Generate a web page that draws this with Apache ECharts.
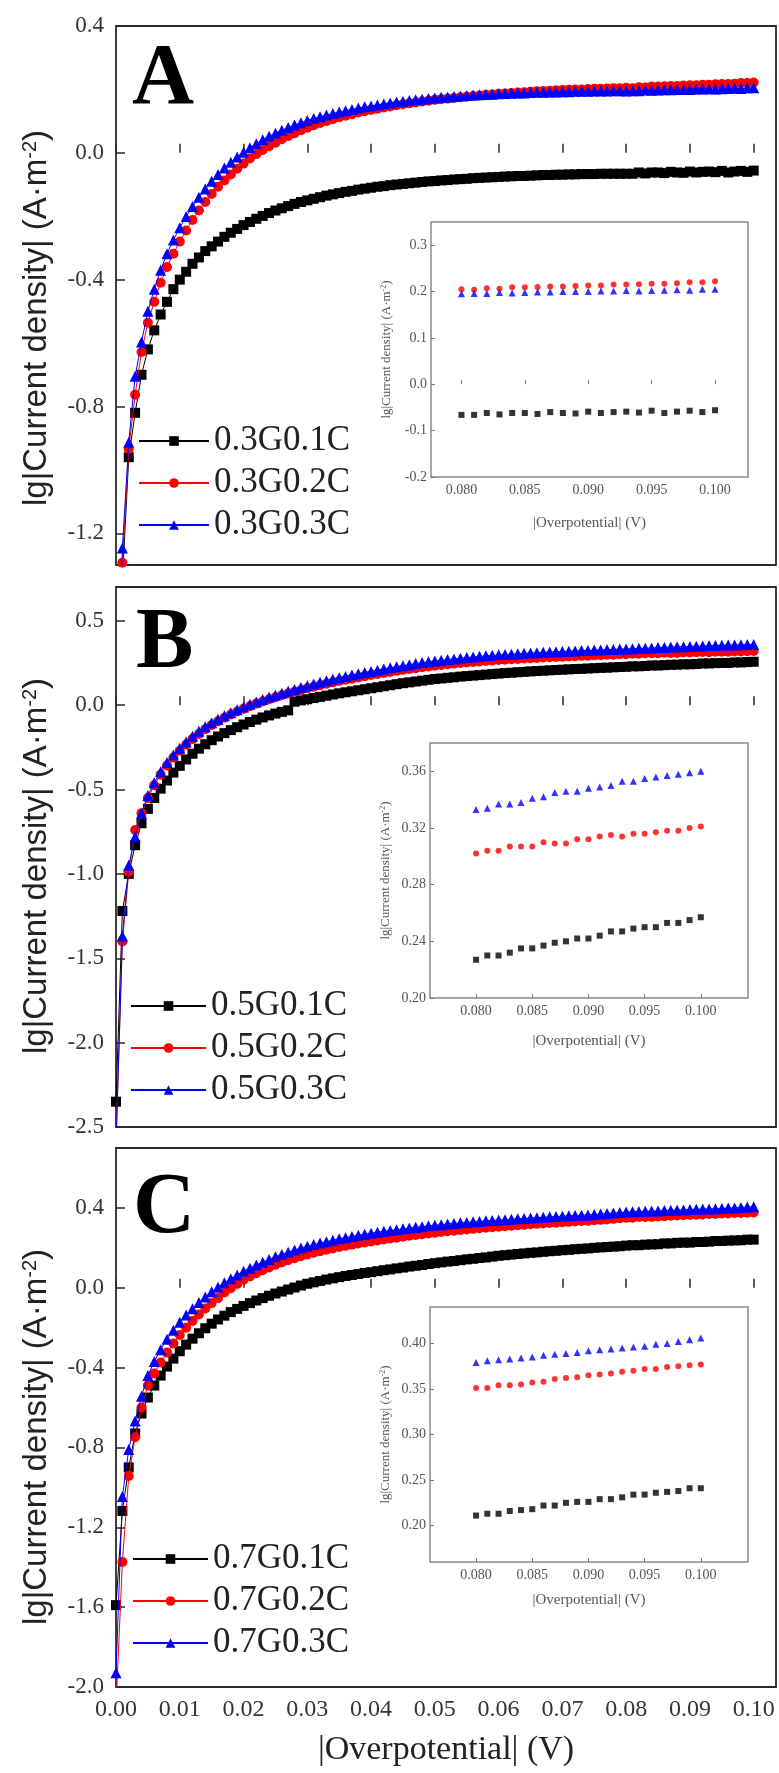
<!DOCTYPE html>
<html><head><meta charset="utf-8">
<script src="https://cdn.jsdelivr.net/npm/echarts@6/dist/echarts.min.js"></script>
<style>html,body{margin:0;padding:0;background:#fff}#chart{width:779px;height:1773px}</style>
</head><body><div id="chart"></div>
<script>
// ---------------- DATA ----------------
const overpotential = [0.000,0.001,0.002,0.003,0.004,0.005,0.006,0.007,0.008,0.009,
0.010,0.011,0.012,0.013,0.014,0.015,0.016,0.017,0.018,0.019,
0.020,0.021,0.022,0.023,0.024,0.025,0.026,0.027,0.028,0.029,
0.030,0.031,0.032,0.033,0.034,0.035,0.036,0.037,0.038,0.039,
0.040,0.041,0.042,0.043,0.044,0.045,0.046,0.047,0.048,0.049,
0.050,0.051,0.052,0.053,0.054,0.055,0.056,0.057,0.058,0.059,
0.060,0.061,0.062,0.063,0.064,0.065,0.066,0.067,0.068,0.069,
0.070,0.071,0.072,0.073,0.074,0.075,0.076,0.077,0.078,0.079,
0.080,0.081,0.082,0.083,0.084,0.085,0.086,0.087,0.088,0.089,
0.090,0.091,0.092,0.093,0.094,0.095,0.096,0.097,0.098,0.099,
0.100];

const aBlack = [-2.0,-1.35,-0.96,-0.82,-0.70,-0.62,-0.56,-0.51,-0.47,-0.43,
-0.40,-0.375,-0.35,-0.33,-0.31,-0.295,-0.28,-0.265,-0.252,-0.24,
-0.228,-0.218,-0.208,-0.199,-0.19,-0.182,-0.175,-0.168,-0.161,-0.155,
-0.150,-0.145,-0.14,-0.135,-0.131,-0.127,-0.123,-0.12,-0.116,-0.113,
-0.110,-0.107,-0.105,-0.102,-0.100,-0.098,-0.096,-0.094,-0.092,-0.090,
-0.089,-0.087,-0.086,-0.084,-0.083,-0.082,-0.080,-0.079,-0.078,-0.077,
-0.076,-0.075,-0.074,-0.073,-0.073,-0.072,-0.071,-0.070,-0.070,-0.069,
-0.069,-0.068,-0.068,-0.067,-0.067,-0.067,-0.066,-0.066,-0.066,-0.066,
-0.066,-0.066,-0.062,-0.065,-0.062,-0.062,-0.064,-0.060,-0.062,-0.063,
-0.059,-0.062,-0.060,-0.059,-0.061,-0.057,-0.062,-0.059,-0.057,-0.060,
-0.056];
const aRed = [-2.2,-1.293,-0.934,-0.763,-0.628,-0.536,-0.47,-0.41,-0.36,-0.318,
-0.28,-0.245,-0.212,-0.182,-0.155,-0.13,-0.107,-0.087,-0.068,-0.05,
-0.034,-0.018,-0.004,0.009,0.021,0.032,0.043,0.053,0.062,0.071,
0.079,0.087,0.094,0.100,0.106,0.112,0.117,0.122,0.127,0.131,
0.135,0.139,0.143,0.146,0.150,0.153,0.156,0.159,0.162,0.164,
0.167,0.169,0.171,0.173,0.175,0.177,0.179,0.181,0.183,0.184,
0.186,0.187,0.189,0.190,0.191,0.193,0.194,0.195,0.196,0.197,
0.198,0.199,0.200,0.200,0.201,0.202,0.202,0.203,0.204,0.204,
0.205,0.204,0.207,0.206,0.209,0.209,0.210,0.211,0.211,0.212,
0.213,0.213,0.215,0.215,0.216,0.217,0.217,0.218,0.220,0.220,
0.222];
const aBlue = [-2.1,-1.246,-0.913,-0.705,-0.597,-0.50,-0.43,-0.37,-0.318,-0.275,
-0.236,-0.201,-0.169,-0.14,-0.114,-0.09,-0.068,-0.048,-0.03,-0.013,
0.002,0.016,0.029,0.041,0.052,0.062,0.071,0.080,0.088,0.095,
0.102,0.108,0.114,0.119,0.124,0.129,0.133,0.137,0.141,0.145,
0.148,0.151,0.154,0.157,0.160,0.162,0.165,0.167,0.169,0.171,
0.173,0.175,0.176,0.178,0.179,0.181,0.182,0.183,0.184,0.185,
0.186,0.187,0.188,0.189,0.189,0.190,0.191,0.191,0.192,0.192,
0.193,0.193,0.194,0.194,0.194,0.195,0.195,0.195,0.196,0.196,
0.195,0.196,0.196,0.198,0.197,0.198,0.199,0.199,0.200,0.200,
0.200,0.201,0.201,0.202,0.201,0.202,0.203,0.204,0.203,0.205,
0.205];

const bBlack = [-2.35,-1.22,-1.00,-0.83,-0.70,-0.615,-0.55,-0.495,-0.447,-0.40,
-0.36,-0.322,-0.288,-0.258,-0.232,-0.208,-0.186,-0.166,-0.148,-0.131,
-0.115,-0.100,-0.086,-0.073,-0.061,-0.050,-0.040,-0.031,0.020,0.028,
0.035,0.042,0.049,0.056,0.063,0.070,0.076,0.082,0.088,0.094,
0.100,0.106,0.112,0.118,0.124,0.130,0.135,0.140,0.145,0.150,
0.155,0.158,0.162,0.165,0.169,0.172,0.175,0.178,0.181,0.184,
0.187,0.190,0.192,0.195,0.197,0.200,0.202,0.204,0.206,0.208,
0.210,0.212,0.214,0.215,0.217,0.219,0.221,0.222,0.224,0.226,
0.227,0.230,0.230,0.232,0.235,0.235,0.237,0.239,0.240,0.242,
0.242,0.244,0.247,0.247,0.249,0.250,0.250,0.253,0.253,0.255,
0.257];
const bRed = [-2.6,-1.40,-0.988,-0.74,-0.64,-0.55,-0.475,-0.412,-0.358,-0.311,
-0.27,-0.234,-0.201,-0.171,-0.143,-0.118,-0.096,-0.075,-0.056,-0.038,
-0.021,-0.006,0.009,0.022,0.035,0.047,0.058,0.069,0.080,0.090,
0.100,0.109,0.118,0.127,0.135,0.143,0.150,0.157,0.164,0.171,
0.178,0.184,0.191,0.197,0.203,0.209,0.214,0.219,0.224,0.229,
0.234,0.238,0.242,0.246,0.250,0.253,0.256,0.259,0.262,0.265,
0.267,0.269,0.272,0.274,0.276,0.278,0.280,0.282,0.284,0.285,
0.287,0.289,0.290,0.292,0.293,0.295,0.296,0.298,0.299,0.301,
0.302,0.304,0.304,0.307,0.307,0.307,0.310,0.309,0.309,0.312,
0.312,0.314,0.315,0.314,0.316,0.316,0.317,0.318,0.318,0.320,
0.321];
const bBlue = [-2.6,-1.368,-0.949,-0.78,-0.64,-0.535,-0.46,-0.395,-0.34,-0.295,
-0.255,-0.218,-0.185,-0.155,-0.128,-0.104,-0.083,-0.063,-0.045,-0.028,
-0.011,0.005,0.019,0.033,0.046,0.058,0.070,0.082,0.093,0.104,
0.115,0.125,0.135,0.144,0.153,0.162,0.170,0.178,0.186,0.193,
0.200,0.207,0.214,0.221,0.228,0.234,0.240,0.246,0.252,0.257,
0.262,0.266,0.270,0.274,0.278,0.282,0.285,0.289,0.292,0.295,
0.298,0.300,0.302,0.305,0.307,0.309,0.311,0.313,0.315,0.316,
0.318,0.320,0.321,0.323,0.324,0.326,0.327,0.329,0.330,0.332,
0.333,0.334,0.337,0.337,0.338,0.341,0.342,0.345,0.346,0.346,
0.348,0.349,0.350,0.353,0.353,0.355,0.356,0.357,0.358,0.359,
0.360];

const cBlack = [-1.59,-1.118,-0.90,-0.73,-0.63,-0.55,-0.49,-0.44,-0.395,-0.355,
-0.318,-0.285,-0.255,-0.228,-0.203,-0.18,-0.159,-0.140,-0.122,-0.106,
-0.091,-0.077,-0.064,-0.052,-0.040,-0.029,-0.019,-0.009,0.001,0.011,
0.020,0.027,0.034,0.041,0.047,0.053,0.059,0.064,0.069,0.074,
0.078,0.083,0.088,0.092,0.097,0.101,0.106,0.110,0.114,0.119,
0.123,0.127,0.131,0.134,0.138,0.142,0.145,0.149,0.152,0.156,
0.160,0.163,0.166,0.169,0.172,0.175,0.177,0.180,0.183,0.185,
0.188,0.190,0.193,0.195,0.197,0.200,0.202,0.204,0.206,0.208,
0.211,0.213,0.213,0.216,0.217,0.218,0.222,0.222,0.225,0.226,
0.226,0.229,0.229,0.231,0.234,0.234,0.236,0.237,0.238,0.241,
0.241];
const cRed = [-2.1,-1.374,-0.943,-0.749,-0.60,-0.49,-0.43,-0.375,-0.325,-0.279,
-0.237,-0.20,-0.166,-0.134,-0.104,-0.077,-0.052,-0.024,-0.002,0.019,
0.040,0.057,0.073,0.088,0.102,0.115,0.127,0.138,0.148,0.158,
0.167,0.175,0.183,0.190,0.197,0.204,0.210,0.216,0.222,0.227,
0.232,0.237,0.242,0.247,0.251,0.256,0.260,0.264,0.268,0.272,
0.276,0.279,0.283,0.286,0.289,0.292,0.295,0.298,0.301,0.303,
0.306,0.308,0.311,0.313,0.315,0.318,0.320,0.322,0.324,0.326,
0.328,0.330,0.332,0.334,0.336,0.338,0.340,0.342,0.345,0.348,
0.351,0.351,0.354,0.354,0.355,0.357,0.358,0.361,0.362,0.363,
0.365,0.366,0.367,0.369,0.370,0.372,0.372,0.374,0.375,0.376,
0.377];
const cBlue = [-1.928,-1.046,-0.81,-0.667,-0.543,-0.44,-0.37,-0.31,-0.258,-0.213,
-0.173,-0.137,-0.105,-0.074,-0.046,-0.02,0.003,0.025,0.045,0.064,
0.082,0.098,0.114,0.128,0.142,0.155,0.167,0.178,0.189,0.199,
0.208,0.216,0.224,0.231,0.238,0.245,0.251,0.257,0.263,0.268,
0.273,0.278,0.283,0.287,0.291,0.295,0.299,0.303,0.306,0.310,
0.313,0.316,0.319,0.322,0.325,0.327,0.330,0.332,0.335,0.337,
0.339,0.341,0.343,0.345,0.347,0.349,0.351,0.353,0.355,0.357,
0.358,0.360,0.362,0.363,0.365,0.367,0.369,0.372,0.375,0.377,
0.379,0.381,0.382,0.383,0.384,0.385,0.387,0.388,0.389,0.390,
0.392,0.393,0.394,0.395,0.396,0.397,0.399,0.400,0.402,0.404,
0.406];

const seriesNamesA = ['0.3G0.1C','0.3G0.2C','0.3G0.3C'];
const seriesNamesB = ['0.5G0.1C','0.5G0.2C','0.5G0.3C'];
const seriesNamesC = ['0.7G0.1C','0.7G0.2C','0.7G0.3C'];

const mainXTicks = [0.00,0.01,0.02,0.03,0.04,0.05,0.06,0.07,0.08,0.09,0.10];
const yTicksA = [-1.2,-0.8,-0.4,0.0,0.4];
const yTicksB = [-2.5,-2.0,-1.5,-1.0,-0.5,0.0,0.5];
const yTicksC = [-2.0,-1.6,-1.2,-0.8,-0.4,0.0,0.4];
const insetXTicks = [0.080,0.085,0.090,0.095,0.100];
const insetYTicksA = [-0.2,-0.1,0.0,0.1,0.2,0.3];
const insetYTicksB = [0.20,0.24,0.28,0.32,0.36];
const insetYTicksC = [0.20,0.25,0.30,0.35,0.40];
const insetStart = 80; // inset shows overpotential 0.080 ... 0.100

// ---------------- LAYOUT / STYLE ----------------
const SERIF = '"Liberation Serif","Times New Roman",serif';
const SANS = '"Liberation Sans",Arial,sans-serif';
const colors = ['#000000', '#ff0000', '#0000ff'];
const symbols = ['rect', 'circle', 'triangle'];
const symSizes = [10, 10, 11];
const insetSym = [6, 6, 7];

const panels = [
  { names: seriesNamesA, data: [aBlack, aRed, aBlue], letter: 'A',
    grid: {left: 116, top: 26, width: 660, height: 539}, yMin: -1.3, yMax: 0.4, yTicks: yTicksA,
    letterPos: [132, 81], titleY: 318, legend: {left: 138, top: 423, w: 70},
    inset: {grid: {left: 431, top: 222, width: 317, height: 255}, xMin: 0.0776, xMax: 0.1026,
      yMin: -0.2, yMax: 0.35, yTicks: insetYTicksA, dec: 1, xNameGap: 39} },
  { names: seriesNamesB, data: [bBlack, bRed, bBlue], letter: 'B',
    grid: {left: 116, top: 587, width: 660, height: 540}, yMin: -2.5, yMax: 0.7, yTicks: yTicksB,
    letterPos: [136, 645], titleY: 866, legend: {left: 130, top: 988, w: 75},
    inset: {grid: {left: 430, top: 743, width: 318, height: 255}, xMin: 0.0759, xMax: 0.1042,
      yMin: 0.20, yMax: 0.38, yTicks: insetYTicksB, dec: 2, xNameGap: 36} },
  { names: seriesNamesC, data: [cBlack, cRed, cBlue], letter: 'C',
    grid: {left: 116, top: 1148, width: 660, height: 539}, yMin: -2.0, yMax: 0.7, yTicks: yTicksC,
    letterPos: [133, 1210], titleY: 1437, legend: {left: 132, top: 1541, w: 75},
    inset: {grid: {left: 430, top: 1307, width: 318, height: 255}, xMin: 0.0759, xMax: 0.1042,
      yMin: 0.16, yMax: 0.44, yTicks: insetYTicksC, dec: 2, xNameGap: 31} }
];

const grids = [], xAxes = [], yAxes = [], series = [], legends = [], graphics = [];

panels.forEach((p, k) => {
  grids.push(Object.assign({show: true, borderColor: '#2a2a2a', borderWidth: 1.8, backgroundColor: 'transparent', containLabel: false}, p.grid));
  const last = k === panels.length - 1;
  xAxes.push({
    type: 'value', gridIndex: k, min: 0, max: 0.1035,
    axisLine: {show: false},
    axisTick: {show: true, inside: true, length: 9, customValues: mainXTicks, lineStyle: {color: '#2a2a2a', width: 1.5}},
    axisLabel: {show: last, customValues: mainXTicks, formatter: v => v.toFixed(2), fontFamily: SERIF, fontSize: 24, color: '#333', margin: 11},
    splitLine: {show: false},
    name: last ? '|Overpotential| (V)' : '', nameLocation: 'middle', nameGap: 46,
    nameTextStyle: {fontFamily: SERIF, fontSize: 34, color: '#222'}
  });
  yAxes.push({
    type: 'value', gridIndex: k, min: p.yMin, max: p.yMax,
    axisLine: {show: false},
    axisTick: {show: true, inside: true, length: 9, customValues: p.yTicks, lineStyle: {color: '#2a2a2a', width: 1.5}},
    axisLabel: {customValues: p.yTicks, formatter: v => v.toFixed(1), fontFamily: SERIF, fontSize: 23, color: '#333', margin: 12},
    splitLine: {show: false}
  });
  p.data.forEach((ys, s) => {
    series.push({
      type: 'line', name: p.names[s], xAxisIndex: k, yAxisIndex: k,
      data: overpotential.map((x, i) => [x, ys[i]]),
      symbol: symbols[s], symbolSize: symSizes[s], showSymbol: true, showAllSymbol: true,
      itemStyle: {color: colors[s]}, lineStyle: {color: colors[s], width: 1},
      emphasis: {disabled: true}, clip: true, z: 2 + s
    });
  });
  legends.push({
    orient: 'vertical', left: p.legend.left, top: p.legend.top, data: p.names, padding: 0,
    itemWidth: p.legend.w, itemHeight: 12, itemGap: 6, selectedMode: false,
    textStyle: {fontFamily: SERIF, fontSize: 35, color: '#222', lineHeight: 36}
  });
  graphics.push({
    type: 'text', x: p.letterPos[0], y: p.letterPos[1], z: 10,
    style: {text: p.letter, fontFamily: SERIF, fontWeight: 'bold', fontSize: 86, fill: '#000', align: 'left', verticalAlign: 'middle'}
  });
  graphics.push({
    type: 'text', x: 37, y: p.titleY, rotation: Math.PI / 2, z: 10,
    style: {text: 'lg|Current density| (A·m{sup|-2})', fontFamily: SANS, fontSize: 33, fill: '#222',
      align: 'center', verticalAlign: 'middle',
      rich: {sup: {fontFamily: SANS, fontSize: 20, fill: '#222', verticalAlign: 'top'}}}
  });
});

// insets
panels.forEach((p, k) => {
  const gi = panels.length + k;
  const ins = p.inset;
  grids.push(Object.assign({show: true, borderColor: '#8a8a8a', borderWidth: 1.5, backgroundColor: '#ffffff', z: 5}, ins.grid));
  xAxes.push({
    type: 'value', gridIndex: gi, min: ins.xMin, max: ins.xMax, z: 6,
    axisLine: {show: false},
    axisTick: {show: true, inside: true, length: 4, customValues: insetXTicks, lineStyle: {color: '#777', width: 1}},
    axisLabel: {customValues: insetXTicks, formatter: v => v.toFixed(3), fontFamily: SERIF, fontSize: 14, color: '#555', margin: 6},
    splitLine: {show: false},
    name: '|Overpotential| (V)', nameLocation: 'middle', nameGap: ins.xNameGap,
    nameTextStyle: {fontFamily: SERIF, fontSize: 15, color: '#555'}
  });
  yAxes.push({
    type: 'value', gridIndex: gi, min: ins.yMin, max: ins.yMax, z: 6,
    axisLine: {show: false},
    axisTick: {show: true, inside: true, length: 4, customValues: ins.yTicks, lineStyle: {color: '#777', width: 1}},
    axisLabel: {customValues: ins.yTicks, formatter: v => v.toFixed(ins.dec), fontFamily: SERIF, fontSize: 14, color: '#555', margin: 4},
    splitLine: {show: false},
    name: 'lg|Current density| (A·m{sup|-2})', nameLocation: 'middle', nameGap: 38, nameRotate: 90,
    nameTextStyle: {fontFamily: SERIF, fontSize: 13, color: '#555', rich: {sup: {fontFamily: SERIF, fontSize: 8, color: '#555', verticalAlign: 'top'}}}
  });
  p.data.forEach((ys, s) => {
    series.push({
      type: 'scatter', name: p.names[s] + ' inset', xAxisIndex: gi, yAxisIndex: gi,
      data: overpotential.slice(insetStart).map((x, i) => [x, ys[insetStart + i]]),
      symbol: symbols[s], symbolSize: insetSym[s],
      itemStyle: {color: colors[s]}, emphasis: {disabled: true}, z: 7 + s
    });
  });
});

const chart = echarts.init(document.getElementById('chart'), null, {renderer: 'canvas'});
chart.setOption({
  backgroundColor: '#ffffff',
  animation: false,
  grid: grids, xAxis: xAxes, yAxis: yAxes, series: series,
  legend: legends, graphic: graphics, tooltip: {show: false}
});
</script></body></html>
